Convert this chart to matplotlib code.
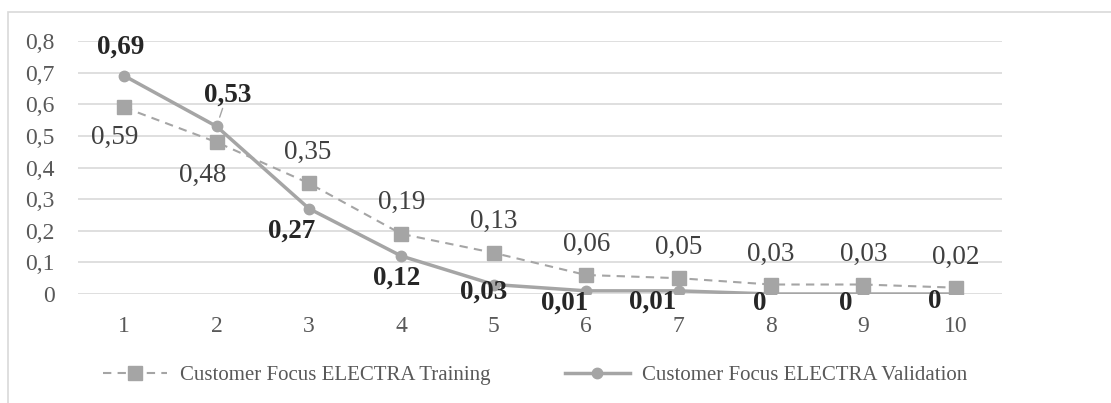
import matplotlib.pyplot as plt
from matplotlib.patches import Rectangle

# data
epochs = [1, 2, 3, 4, 5, 6, 7, 8, 9, 10]
training = [0.59, 0.48, 0.35, 0.19, 0.13, 0.06, 0.05, 0.03, 0.03, 0.02]
validation = [0.69, 0.53, 0.27, 0.12, 0.03, 0.01, 0.01, 0, 0, 0]
yticks = [0, 0.1, 0.2, 0.3, 0.4, 0.5, 0.6, 0.7, 0.8]

# label offsets in pixels (dx, dy)
train_off = [(-10, -30), (-14, -33), (-1, 31), (0, 32), (0, 31),
             (0, 31), (0, 31), (0, 30), (0, 30), (0, 30)]
valid_off = [(-4, 29), (11, 31), (-17, -23), (-5, -22), (-10, -8),
             (-22, -12), (-26, -11), (-11, -9), (-18, -9), (-21, -7)]

plt.rcParams['font.family'] = ['Liberation Serif', 'DejaVu Serif']

line_c = '#a5a5a5'
text_c = '#595959'
W, H = 1111, 403

fig = plt.figure(figsize=(W / 100, H / 100), dpi=100)
fig.patches.append(Rectangle((8 / W, -0.1), 1.2, 1 - 12 / H + 0.1,
                             transform=fig.transFigure, fill=False,
                             edgecolor='#d9d9d9', lw=1.2))

ax = fig.add_axes([78 / W, (H - 294) / H, (1002 - 78) / W, (294 - 41) / H])

ax.plot(epochs, training, '--', color=line_c, lw=1.5, marker='s',
        markersize=10, dashes=(4, 3), label='Customer Focus ELECTRA Training')
ax.plot(epochs, validation, '-', color=line_c, lw=2.5, marker='o',
        markersize=7.5, label='Customer Focus ELECTRA Validation')

for x, v, (dx, dy) in zip(epochs, training, train_off):
    ax.annotate(f'{v:g}'.replace('.', ','), (x, v), xytext=(dx, dy),
                textcoords='offset pixels', ha='center', va='center',
                fontsize=19.5, color='#404040')
for i, (x, v, (dx, dy)) in enumerate(zip(epochs, validation, valid_off)):
    ax.annotate(f'{v:g}'.replace('.', ','), (x, v), xytext=(dx, dy),
                textcoords='offset pixels', ha='center', va='center',
                fontsize=19.5, fontweight='bold', color='#262626')
    if i == 1:
        # leader line to the 0,53 label
        ax.annotate('', (x, v), xytext=(dx - 5, dy - 13),
                    textcoords='offset pixels',
                    arrowprops=dict(arrowstyle='-', color=line_c, lw=1,
                                    shrinkA=0, shrinkB=7))

ax.set_xlim(0.5, 10.5)
ax.set_ylim(0, 0.8)
ax.set_xticks(epochs)
ax.set_yticks(yticks)
ax.set_yticklabels([f'{t:g}'.replace('.', ',') for t in yticks])
ax.tick_params(length=0, labelsize=17, colors=text_c, pad=16)
ax.tick_params(axis='y', pad=17)
ax.grid(axis='y', color='#d9d9d9', lw=1.2)
ax.set_axisbelow(True)
for s in ax.spines.values():
    s.set_visible(False)

fig.legend(loc='center', bbox_to_anchor=(535 / W, 1 - 375 / H), ncol=2,
           frameon=False, fontsize=15, labelcolor=text_c, handlelength=3.1,
           handletextpad=0.6, columnspacing=3.6)

fig.savefig('out.png', dpi=100)
